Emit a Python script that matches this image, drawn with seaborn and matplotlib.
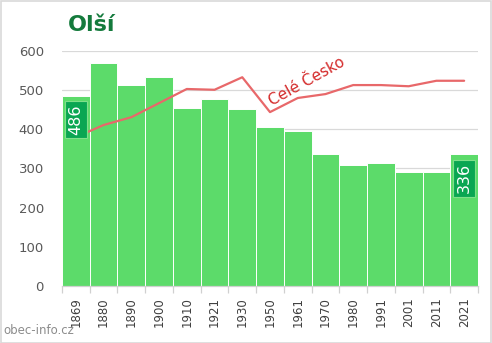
import numpy as np
import pandas as pd
import matplotlib
matplotlib.use("Agg")
import matplotlib.pyplot as plt
import seaborn as sns

years = ["1869", "1880", "1890", "1900", "1910", "1921", "1930", "1950",
         "1961", "1970", "1980", "1991", "2001", "2011", "2021"]
population = [486, 569, 513, 533, 454, 477, 451, 406, 395, 337, 309, 314, 291, 291, 336]
czech_scaled = [380, 411, 431, 467, 503, 501, 533, 444, 480, 490, 513, 513, 510, 524, 524]
yticks = [0, 100, 200, 300, 400, 500, 600]
title = "Olší"
line_label = "Celé Česko"
watermark = "obec-info.cz"

sns.set_theme(style="white")
plt.rcParams['font.family'] = ['DejaVu Sans']

df = pd.DataFrame({"year": years, "pop": population, "cz": czech_scaled,
                   "pos": np.arange(len(years))})

fig = plt.figure(figsize=(4.92, 3.43), dpi=100)
ax = fig.add_axes([62/492, 57/343, 416/492, 235/343])

sns.barplot(data=df, x="year", y="pop", color="#5cdb6a", saturation=1,
            width=1.0, edgecolor="white", linewidth=0.7, ax=ax, zorder=2)
sns.lineplot(data=df, x="pos", y="cz", color="#e8686a", linewidth=1.6,
             ax=ax, zorder=3)

ax.set_xlim(-0.5, len(years) - 0.5)
ax.set_ylim(0, 600)
ax.set_yticks(yticks)
ax.set_xlabel("")
ax.set_ylabel("")
ax.grid(axis="y", color="#d9d9d9", linewidth=0.9, zorder=0)
ax.set_axisbelow(True)
for s in ["left", "top", "right"]:
    ax.spines[s].set_visible(False)
ax.spines["bottom"].set_color("#d0d0d0")
ax.spines["bottom"].set_linewidth(0.9)
ax.spines["bottom"].set_zorder(4)

ax.set_xticks(np.arange(len(years)))
ax.set_xticklabels(years, rotation=90, fontsize=8.5, color="#404040")
ax.set_xticks(np.arange(len(years) + 1) - 0.5, minor=True)
ax.tick_params(axis="x", which="major", length=0, pad=8)
ax.tick_params(axis="x", which="minor", length=5, color="#d0d0d0", width=0.9, bottom=True)
ax.tick_params(axis="y", length=0, labelsize=9.5, labelcolor="#595959", pad=13)

# value labels on first and last bars
for i in [0, len(years) - 1]:
    ax.text(i, population[i] - 22, str(population[i]), rotation=90,
            ha="center", va="top", color="white", fontsize=11.5, zorder=6,
            bbox=dict(boxstyle="square,pad=0.22", fc="#0aa652", ec="#7fe08a", lw=0.8))

ax.text(7.12, 452, line_label, rotation=29, color="#d42a2a", fontsize=11,
        ha="left", va="bottom", zorder=5, rotation_mode="anchor")

fig.text(68/492, 1 - 25/343, title, fontsize=16, fontweight="bold",
         color="#147a3c", ha="left", va="center")
fig.text(3/492, 1 - 330/343, watermark, fontsize=8.5, color="#8c8c8c",
         ha="left", va="center")

border = plt.Rectangle((0.5/492, 0.5/343), 1 - 1.5/492, 1 - 1.5/343,
                       transform=fig.transFigure, fill=False, ec="#d9d9d9", lw=1.2)
fig.patches.append(border)

fig.savefig("out.png", dpi=100)
